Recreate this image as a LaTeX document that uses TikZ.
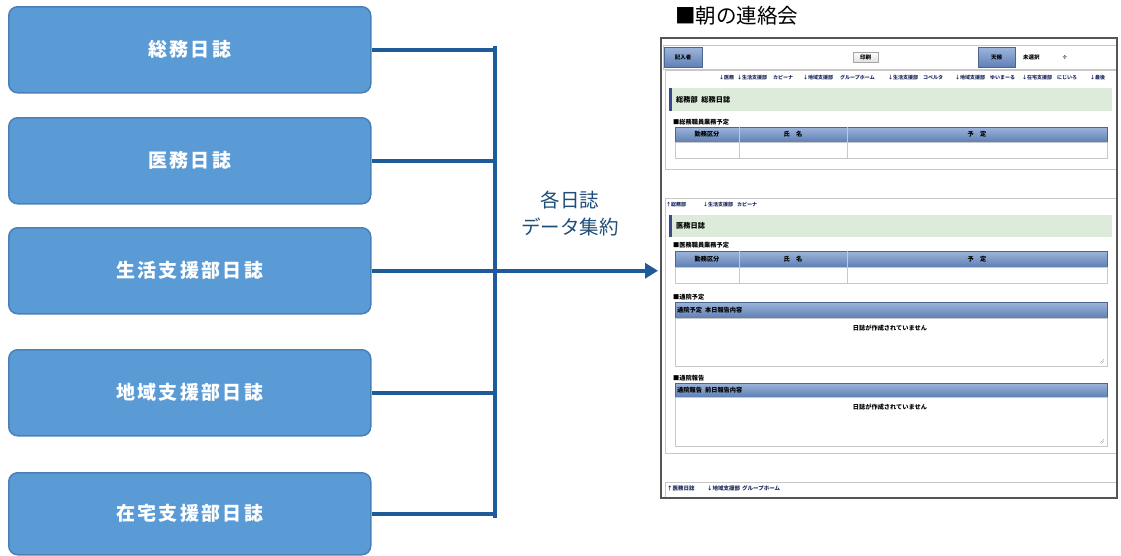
\documentclass[tikz,border=0pt]{standalone}
\usepackage{fontspec}
\setmainfont{Noto Sans CJK JP}
\usetikzlibrary{arrows.meta}
\definecolor{boxblue}{HTML}{5B9BD5}
\definecolor{boxedge}{HTML}{4A80B8}
\definecolor{conncol}{HTML}{1F5B98}
\definecolor{labcol}{HTML}{1F4E79}
\definecolor{hdrtop}{HTML}{9DB5DA}
\definecolor{hdrbot}{HTML}{5F80B5}
\definecolor{greenbar}{HTML}{DDEBDA}
\definecolor{navbar}{HTML}{3B4A8A}
\definecolor{linkcol}{HTML}{1E2A5E}
\definecolor{lightedge}{HTML}{C8C8C8}
\definecolor{frameedge}{HTML}{555555}
\tikzset{
  diarybox/.style={draw=boxedge, line width=1.5pt, fill=boxblue, rounded corners=9pt,
    minimum width=362pt, anchor=north west, inner sep=0pt,
    text=white, font=\fontsize{19}{19}\selectfont\bfseries\addfontfeature{LetterSpace=12}},
  conn/.style={draw=conncol, line width=4pt},
  tiny/.style={font=\fontsize{5.5}{5.5}\selectfont\bfseries, inner sep=0pt, text=black},
  small/.style={font=\fontsize{6.2}{6.2}\selectfont\bfseries, inner sep=0pt, text=black},
  link/.style={font=\fontsize{5}{5}\selectfont\bfseries, inner sep=0pt, text=linkcol, anchor=west},
  hdrcell/.style={top color=hdrtop, bottom color=hdrbot, draw=hdrbot!80!black, line width=0.4pt},
  panel/.style={draw=lightedge, line width=0.8pt, fill=white},
  cell/.style={draw=lightedge, line width=0.5pt, fill=white},
}
\begin{document}
\begin{tikzpicture}[x=1pt,y=-1pt]
\useasboundingbox (0,0) rectangle (1121,555);
\fill[white] (0,0) rectangle (1121,555);

% ---- diary boxes
\node[diarybox, minimum height=86pt] (b1) at (8,6) {総務日誌};
\node[diarybox, minimum height=86pt] (b2) at (8,117) {医務日誌};
\node[diarybox, minimum height=86pt] (b3) at (8,227) {生活支援部日誌};
\node[diarybox, minimum height=86pt] (b4) at (8,349) {地域支援部日誌};
\node[diarybox, minimum height=82pt] (b5) at (8,472) {在宅支援部日誌};

% ---- screenshot frame
\node[draw=frameedge, line width=1.3pt, fill=white, minimum width=456pt, minimum height=460pt,
      anchor=north west, inner sep=0pt] (shot) at (661,38) {};

% ---- connectors
\coordinate (busx) at (495,0);
\draw[conn] (b1.east) -- (b1.east -| busx);
\draw[conn] (b2.east) -- (b2.east -| busx);
\draw[conn] (b4.east) -- (b4.east -| busx);
\draw[conn] (b5.east) -- (b5.east -| busx);
\draw[conn, line cap=rect] ([yshift=2pt]b1.east -| busx) -- ([yshift=-2pt]b5.east -| busx);
\draw[conn, -{Triangle[length=13pt,width=15pt]}, shorten >=3pt] (b3.east) -- (b3.east -| shot.west);

\node[text=labcol, font=\fontsize{19.5}{27}\selectfont, align=center] (agg) at (570,214) {各日誌\\データ集約};
\node[text=black, font=\fontsize{20.5}{20.5}\selectfont, anchor=west, inner sep=0pt] (title) at (675,16) {■朝の連絡会};

% ---- header row
\draw[panel] (663,45) rectangle (1116,69);
\node[hdrcell, minimum width=38pt, minimum height=20pt, anchor=north west, inner sep=0pt] (writer) at (664,47) {};
\node[tiny] (writert) at (writer) {記入者};
\node[draw=gray!70, line width=0.4pt, top color=white, bottom color=gray!25, minimum width=25pt, minimum height=10pt, anchor=north west, inner sep=0pt] (print) at (853,52) {};
\node[tiny] (printt) at (print) {印刷};
\node[hdrcell, minimum width=37pt, minimum height=20pt, anchor=north west, inner sep=0pt] (weather) at (978,47) {};
\node[tiny] (weathert) at (weather) {天候};
\node[tiny, anchor=west] (sel) at (1023,57) {未選択};
\node[tiny, anchor=west] (selarr) at (1062,57) {÷};

% ---- panel 1
\draw[panel] (665,70) rectangle (1116,169);
\node[link] (n1) at (719,78) {↓医務};
\node[link] (n2) at (737,78) {↓生活支援部};
\node[link] (n3) at (773,78) {カピーナ};
\node[link] (n4) at (803,78) {↓地域支援部};
\node[link] (n5) at (840,78) {グループホーム};
\node[link] (n6) at (888,78) {↓生活支援部};
\node[link] (n7) at (923,78) {コペルタ};
\node[link] (n8) at (955,78) {↓地域支援部};
\node[link] (n9) at (990,78) {ゆいまーる};
\node[link] (n10) at (1022,78) {↓在宅支援部};
\node[link] (n11) at (1057,78) {にじいろ};
\node[link] (n12) at (1090,78) {↓最後};

\fill[greenbar] (669,88) rectangle (1112,111);
\fill[navbar] (669,88) rectangle (671.5,111);
\node[font=\fontsize{7.2}{7.2}\selectfont\bfseries, inner sep=0pt, anchor=west] (g1) at (676,100) {総務部\enspace 総務日誌};

\node[small, anchor=west] (s1) at (673,122) {■総務職員業務予定};
\draw[hdrcell] (675,127) rectangle (1107,142);
\draw[cell] (675,142) rectangle (1107,158);
\draw[lightedge, line width=0.5pt] (739,127) -- (739,158) (847,127) -- (847,158);
\node[small] (t1a) at (707,134.5) {勤務区分};
\node[small] (t1b) at (793,134.5) {氏\quad 名};
\node[small] (t1c) at (977,134.5) {予\quad 定};

% ---- panel 2
\draw[panel] (665,198) rectangle (1116,453);
\node[link] (m1) at (666,205) {↑総務部};
\node[link] (m2) at (703,205) {↓生活支援部};
\node[link] (m3) at (737,205) {カピーナ};

\fill[greenbar] (669,215) rectangle (1112,237);
\fill[navbar] (669,215) rectangle (671.5,237);
\node[font=\fontsize{7.2}{7.2}\selectfont\bfseries, inner sep=0pt, anchor=west] (g2) at (676,226) {医務日誌};

\node[small, anchor=west] (s2) at (673,245) {■医務職員業務予定};
\draw[hdrcell] (675,251) rectangle (1107,267);
\draw[cell] (675,267) rectangle (1107,283);
\draw[lightedge, line width=0.5pt] (739,251) -- (739,283) (847,251) -- (847,283);
\node[small] (t2a) at (707,259) {勤務区分};
\node[small] (t2b) at (793,259) {氏\quad 名};
\node[small] (t2c) at (977,259) {予\quad 定};

\node[small, anchor=west] (s3) at (673,297) {■通院予定};
\draw[hdrcell] (675,302) rectangle (1107,318);
\node[small, anchor=west] (h3) at (677,310) {通院予定\enspace 本日報告内容};
\draw[cell] (675,318) rectangle (1107,366);
\node[small] (e1) at (890,328) {日誌が作成されていません};
\draw[gray, line width=0.3pt] (1100,363) -- (1104,359) (1102,363) -- (1104,361);

\node[small, anchor=west] (s4) at (673,378) {■通院報告};
\draw[hdrcell] (675,383) rectangle (1107,397);
\node[small, anchor=west] (h4) at (677,390) {通院報告\enspace 前日報告内容};
\draw[cell] (675,397) rectangle (1107,446);
\node[small] (e2) at (890,407) {日誌が作成されていません};
\draw[gray, line width=0.3pt] (1100,443) -- (1104,439) (1102,443) -- (1104,441);

% ---- panel 3
\draw[panel] (665,482) rectangle (1116,498);
\node[link, font=\fontsize{5.5}{5.5}\selectfont\bfseries] (k1) at (667,488.5) {↑医務日誌};
\node[link, font=\fontsize{5.5}{5.5}\selectfont\bfseries] (k2) at (707,488.5) {↓地域支援部};
\node[link, font=\fontsize{5.5}{5.5}\selectfont\bfseries] (k3) at (742,488.5) {グループホーム};
\draw[frameedge, line width=1.3pt] (661,38) rectangle (1117,498);
\end{tikzpicture}
\end{document}
